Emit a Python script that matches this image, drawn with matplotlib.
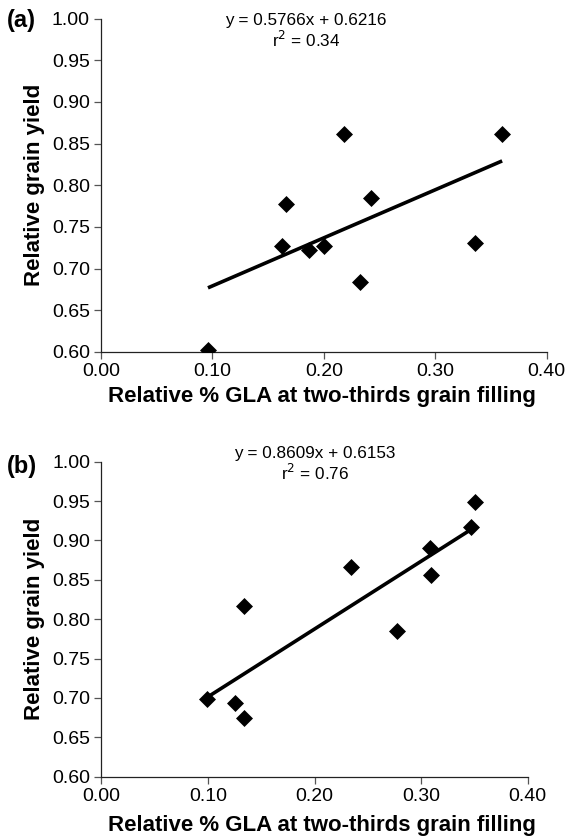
import numpy as np
import matplotlib
matplotlib.use("Agg")
import matplotlib.pyplot as plt

plt.rcParams['font.family'] = ['Liberation Sans', 'DejaVu Sans']

# panel (a)
gla_a = [0.096, 0.162, 0.166, 0.187, 0.200, 0.218, 0.232, 0.242, 0.336, 0.360]
yield_a = [0.602, 0.727, 0.777, 0.722, 0.727, 0.861, 0.684, 0.785, 0.731, 0.861]
slope_a, icpt_a, r2_a = 0.5766, 0.6216, 0.34

# panel (b)
gla_b = [0.099, 0.125, 0.134, 0.134, 0.234, 0.277, 0.308, 0.309, 0.347, 0.351]
yield_b = [0.699, 0.694, 0.817, 0.675, 0.866, 0.785, 0.890, 0.856, 0.917, 0.949]
slope_b, icpt_b, r2_b = 0.8609, 0.6153, 0.76

xticks = [0.0, 0.1, 0.2, 0.3, 0.4]
yticks = [0.60, 0.65, 0.70, 0.75, 0.80, 0.85, 0.90, 0.95, 1.00]

W, H = 567, 839
fig = plt.figure(figsize=(W / 100, H / 100), dpi=100)


def box(l, t, r, b):
    # pixel box (from top-left) -> figure fraction rect
    return [l / W, 1 - b / H, (r - l) / W, (b - t) / H]


def panel(rect, gx, gy, slope, icpt, r2, tag, tag_pos, eq_pos, xlab_y):
    ax = fig.add_axes(box(*rect))
    ax.scatter(gx, gy, marker='D', s=75, color='black', zorder=3, linewidths=0)
    xs = np.array([min(gx), max(gx)])
    ax.plot(xs, slope * xs + icpt, color='black', lw=2.6, solid_capstyle='butt')
    ax.set_xlim(0, 0.4)
    ax.set_ylim(0.6, 1.0)
    ax.set_xticks(xticks)
    ax.set_yticks(yticks)
    ax.set_xticklabels(['%.2f' % v for v in xticks])
    ax.set_yticklabels(['%.2f' % v for v in yticks])
    ax.spines['top'].set_visible(False)
    ax.spines['right'].set_visible(False)
    for s in ['left', 'bottom']:
        ax.spines[s].set_linewidth(0.9)
        ax.spines[s].set_color('#222222')
    ax.tick_params(direction='out', length=5, width=0.9, color='#555555',
                   labelsize=14, pad=3)
    ax.set_ylabel('Relative grain yield', fontsize=16, fontweight='bold', labelpad=5)
    fig.text(322 / W, 1 - xlab_y / H, 'Relative % GLA at two-thirds grain filling',
             fontsize=16, fontweight='bold', ha='center', va='center')
    fig.text(tag_pos[0] / W, 1 - tag_pos[1] / H, tag, fontsize=17,
             fontweight='bold', ha='left', va='center')
    fig.text(eq_pos[0] / W, 1 - eq_pos[1] / H,
             'y = %.4fx + %.4f' % (slope, icpt), fontsize=12.3,
             ha='center', va='center')
    fig.text(eq_pos[0] / W, 1 - (eq_pos[1] + 19.5) / H,
             r'r$^{2}$ = %.2f' % r2, fontsize=12.3, ha='center', va='center')
    return ax


panel((101, 18.5, 546.7, 352), gla_a, yield_a, slope_a, icpt_a, r2_a,
      '(a)', (7, 21), (305.7, 20), 397)
panel((101.3, 461.7, 527.7, 776.7), gla_b, yield_b, slope_b, icpt_b, r2_b,
      '(b)', (7, 466), (314.8, 453.3), 825)

fig.savefig('out.png', dpi=100)
